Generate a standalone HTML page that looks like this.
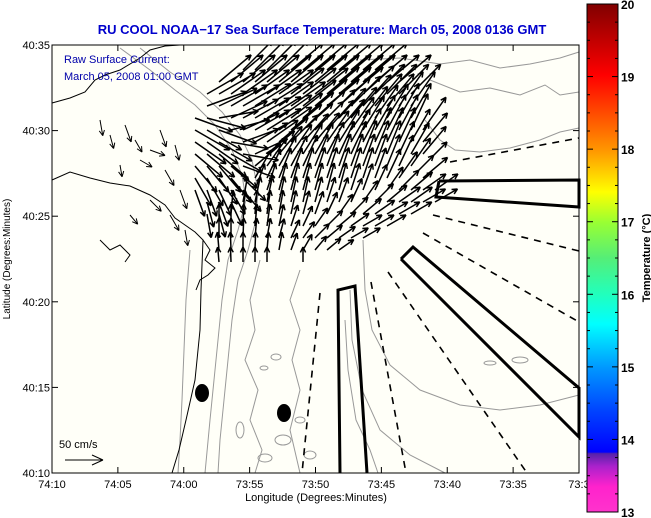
<!DOCTYPE html>
<html><head><meta charset="utf-8"><style>
body{margin:0;background:#fff;}
svg{display:block;font-family:"Liberation Sans",Arial,sans-serif;}
</style></head><body>
<svg id="c" width="651" height="518" viewBox="0 0 651 518" xmlns="http://www.w3.org/2000/svg">
<defs>
<clipPath id="plotclip"><rect x="52" y="45" width="527" height="428"/></clipPath>
<linearGradient id="cb" x1="0" y1="1" x2="0" y2="0">
<stop offset="0" stop-color="#ff33cc"/>
<stop offset="0.05" stop-color="#ff22cc"/>
<stop offset="0.09" stop-color="#aa22cc"/>
<stop offset="0.115" stop-color="#5522aa"/>
<stop offset="0.118" stop-color="#0000ff"/>
<stop offset="0.2" stop-color="#0044ff"/>
<stop offset="0.285" stop-color="#0099ff"/>
<stop offset="0.37" stop-color="#00ffff"/>
<stop offset="0.43" stop-color="#22ffbb"/>
<stop offset="0.5" stop-color="#55ee77"/>
<stop offset="0.57" stop-color="#99ff33"/>
<stop offset="0.63" stop-color="#ffff00"/>
<stop offset="0.71" stop-color="#ff9900"/>
<stop offset="0.78" stop-color="#ff5000"/>
<stop offset="0.86" stop-color="#ff0000"/>
<stop offset="0.93" stop-color="#c00000"/>
<stop offset="1" stop-color="#800000"/>
</linearGradient>
</defs>
<text x="322" y="34" text-anchor="middle" font-size="13" font-weight="bold" fill="#0000cc">RU COOL  NOAA−17  Sea Surface Temperature:  March 05, 2008 0136 GMT</text>
<rect x="52" y="45" width="527" height="428" fill="#fffff8"/>
<g id="contours" fill="none" stroke="#999" stroke-width="1">
<polyline points="120,48 150,70 175,90 195,105 215,125 232,150 242,175 246,200 238,230 228,260 222,300 218,340 214,380 210,420 205,473"/>
<polyline points="140,48 170,72 200,92 222,112 240,135 252,160 258,190 256,220 248,250 238,280 232,320 228,360 224,400 220,440 218,473"/>
<polyline points="190,250 186,300 184,350 182,400 180,440 178,473"/>
<polyline points="260,260 250,300 255,330 245,360 258,390 250,420 262,450 255,473"/>
<polyline points="300,270 290,300 300,330 292,360 300,390 290,430 300,473"/>
<polyline points="360,60 400,58 440,64 470,60 500,68 530,64 560,58 579,52"/>
<polyline points="430,80 460,92 490,88 520,95 545,85 560,95 579,92"/>
<polyline points="425,120 440,140 455,150 480,152 510,148 540,140 560,132 579,128"/>
<polyline points="363,240 365,290 372,330 390,365 420,390 460,405 500,410 540,405 579,395"/>
<polyline points="350,290 352,340 362,390 380,430 410,455 445,473"/>
<polyline points="345,320 348,370 356,420 370,450 378,473"/>
<ellipse cx="276" cy="357" rx="5" ry="3"/><ellipse cx="264" cy="368" rx="4" ry="2"/>
<ellipse cx="300" cy="420" rx="5" ry="3"/><ellipse cx="283" cy="440" rx="8" ry="5"/>
<ellipse cx="240" cy="430" rx="4" ry="8"/><ellipse cx="310" cy="455" rx="6" ry="4"/>
<ellipse cx="265" cy="458" rx="7" ry="4"/><ellipse cx="520" cy="360" rx="8" ry="3"/>
<ellipse cx="490" cy="363" rx="6" ry="2"/>
</g>
<g fill="none" stroke="#000" stroke-width="1">
<polyline points="52,180 70,172 90,178 110,183 130,186 150,195 165,205 175,218 185,225 195,232 203,240 201,290 200,330 195,380 186,420 179,450 172,473"/>
<polyline points="52,103 70,98 85,92 95,80 105,75 120,70 140,58 150,50 165,46 180,45"/>
<polyline points="203,240 210,250 205,260 215,268 208,275 200,280 196,290"/>
<polyline points="100,240 110,250 120,245 130,255 125,262"/>
</g>
<g id="masks"></g>
<g id="arrows" stroke="#000" stroke-width="1.5" fill="none" clip-path="url(#plotclip)"></g>
<ellipse cx="202" cy="393" rx="7" ry="9" fill="#000"/>
<ellipse cx="284" cy="413" rx="7" ry="9" fill="#000"/>
<text x="64" y="63" font-size="11" fill="#0000aa">Raw Surface Current:</text>
<text x="64" y="80" font-size="11" fill="#0000aa">March 05, 2008 01:00 GMT</text>
<text x="59" y="448" font-size="11" fill="#000">50 cm/s</text>
<g stroke="#000"><line x1="65" y1="460" x2="103" y2="460"/><line x1="103" y1="460" x2="92" y2="455"/><line x1="103" y1="460" x2="92" y2="465"/></g>
<rect x="52" y="45" width="527" height="428" fill="none" stroke="#000" stroke-width="1"/>
<g id="axes"></g>
<text x="316" y="501" text-anchor="middle" font-size="11">Longitude (Degrees:Minutes)</text>
<text transform="translate(10,259) rotate(-90)" text-anchor="middle" font-size="10">Latitude (Degrees:Minutes)</text>
<rect x="587" y="4" width="31" height="508" fill="url(#cb)" stroke="#000"/>
<g id="cbaxis"></g>
<text transform="translate(650,258) rotate(-90)" text-anchor="middle" font-size="11" font-weight="bold">Temperature (°C)</text>
</svg>
<script>
const xTickLabels=["74:10","74:05","74:00","73:55","73:50","73:45","73:40","73:35","73:3"];
const yTickLabels=["40:10","40:15","40:20","40:25","40:30","40:35"];
const cbLabels=[13,14,15,16,17,18,19,20];
const gridX0=195, gridDX=12, gridY0=70, gridDY=12;
const rowLengths=[42,42,42,42,40,40,38,36,34,32,28,26,24,22,20,18,15];
const N=null;
const rowAngles=[
[N,N,N,N,45,45,45,45,40,40,40,40,40,40,40,40,N,N,N,N,N,N],
[N,N,40,40,40,40,40,40,40,40,40,40,40,40,40,40,40,40,N,N,N,N],
[N,30,30,35,35,35,35,35,38,38,38,40,40,40,42,45,45,45,45,N,N,N],
[N,20,25,30,30,32,32,35,35,38,40,40,42,45,48,50,50,55,55,N,N,N],
[-20,-15,10,25,28,30,32,35,38,40,42,45,48,50,52,55,58,60,60,N,N,N],
[-30,-30,-20,15,25,30,32,35,40,42,45,48,50,55,58,60,62,62,65,55,N,N],
[-35,-35,-30,-10,20,30,35,40,45,48,50,55,58,60,62,65,65,65,60,50,N,N],
[-40,-40,-40,-30,-10,25,40,50,55,58,60,62,65,65,68,68,68,65,60,50,N,N],
[-50,-50,-50,-40,-20,40,55,60,62,65,68,70,70,70,70,70,68,65,55,45,N,N],
[-60,-60,-55,-50,-45,60,65,68,70,72,72,72,72,72,72,70,65,55,45,40,N,N],
[-70,-70,-65,-60,-50,70,72,75,75,75,75,75,75,72,70,65,55,45,40,35,35,N],
[N,-75,-70,-65,80,78,78,78,78,78,75,72,70,65,55,45,40,35,35,30,30,N],
[N,-80,-75,85,85,85,82,80,78,75,70,65,55,45,40,35,30,30,30,N,N,N],
[N,N,90,90,88,85,82,78,72,65,55,45,40,35,30,30,30,N,N,N,N,N],
[N,N,90,90,88,85,80,75,65,55,45,40,35,30,30,N,N,N,N,N,N,N],
[N,N,95,92,90,88,85,80,70,60,50,40,35,N,N,N,N,N,N,N,N,N],
[N,N,95,92,90,90,90,N,N,90,N,N,N,N,N,N,N,N,N,N,N,N]];
const sparseX=[100,110,125,135,150,160,175,120,140,165,180,150,170,185,130];
const sparseY=[120,135,125,140,150,130,145,165,160,170,190,200,215,230,215];
const sparseAng=[-80,-75,-70,-60,-20,-70,-75,-80,-30,-60,-70,-45,-60,-80,-50];
const sparseLen=[16,14,18,14,16,18,16,12,14,18,20,16,18,16,12];
const NS="http://www.w3.org/2000/svg";
function mk(tag,attrs,parent){const e=document.createElementNS(NS,tag);for(const k in attrs)e.setAttribute(k,attrs[k]);parent.appendChild(e);return e;}
const xPix=i=>52+i*(527/8), yPix=i=>473-i*(428/5);
const ax=document.getElementById('axes');
xTickLabels.forEach((t,i)=>{const x=xPix(i);
 mk('line',{x1:x,y1:473,x2:x,y2:467,stroke:'#000'},ax);
 mk('line',{x1:x,y1:45,x2:x,y2:51,stroke:'#000'},ax);
 const tx=mk('text',{x:x,y:488,'text-anchor':'middle','font-size':11},ax);tx.textContent=t;
 
 });
yTickLabels.forEach((t,i)=>{const y=yPix(i);
 mk('line',{x1:52,y1:y,x2:58,y2:y,stroke:'#000'},ax);
 mk('line',{x1:579,y1:y,x2:573,y2:y,stroke:'#000'},ax);
 const tx=mk('text',{x:50,y:y+4,'text-anchor':'end','font-size':11},ax);tx.textContent=t;
 
 });
const cbax=document.getElementById('cbaxis');
const cbY=v=>512-(v-13)*(508/7);
for(let v=13;v<=20.001;v+=0.25){const y=cbY(v);const big=Math.abs(v-Math.round(v))<0.01;
 mk('line',{x1:587,y1:y,x2:big?593:590,y2:y,stroke:'#000'},cbax);
 mk('line',{x1:618,y1:y,x2:big?612:615,y2:y,stroke:'#000'},cbax);}
cbLabels.forEach(v=>{const tx=mk('text',{x:621,y:cbY(v)+5,'font-size':12,'font-weight':'bold'},cbax);tx.textContent=v;
 
 });
const ag=document.getElementById('arrows');
function arrow(x,y,ang,L){const a=ang*Math.PI/180;const x2=x+L*Math.cos(a),y2=y-L*Math.sin(a);
 let d=`M${x},${y}L${x2},${y2}`;const h=6;
 for(const s of [0.45,-0.45]){const b=a+Math.PI+s;d+=`M${x2},${y2}L${x2+h*Math.cos(b)},${y2-h*Math.sin(b)}`;}
 return d;}
let d="";
rowAngles.forEach((row,r)=>row.forEach((ang,c)=>{if(ang===null)return;d+=arrow(gridX0+c*gridDX,gridY0+r*gridDY,ang,rowLengths[r]);}));
let d2="";
sparseX.forEach((x,i)=>{d2+=arrow(x,sparseY[i],sparseAng[i],sparseLen[i]);});
const p=mk('path',{d:d},ag);


const p2=mk('path',{d:d2,'stroke-width':1},ag);


const mg=document.getElementById('masks');
const polys=["439,181 579,180 579,207 436,197 439,181","401,259 413,247 579,388 579,437 401,259","340,473 338,290 355,286 367,473"];
polys.forEach(pt=>{const e=mk('polyline',{points:pt,fill:'none',stroke:'#000','stroke-width':3},mg);
 
 });
const dashes=[[450,162,579,138],[433,215,579,251],[423,233,579,322],[320,293,302,473],[371,282,406,473],[388,272,527,473]];
dashes.forEach(q=>{const e=mk('line',{x1:q[0],y1:q[1],x2:q[2],y2:q[3],stroke:'#000','stroke-width':1.6,'stroke-dasharray':'7,6'},mg);
 
 });
</script>
</body></html>
